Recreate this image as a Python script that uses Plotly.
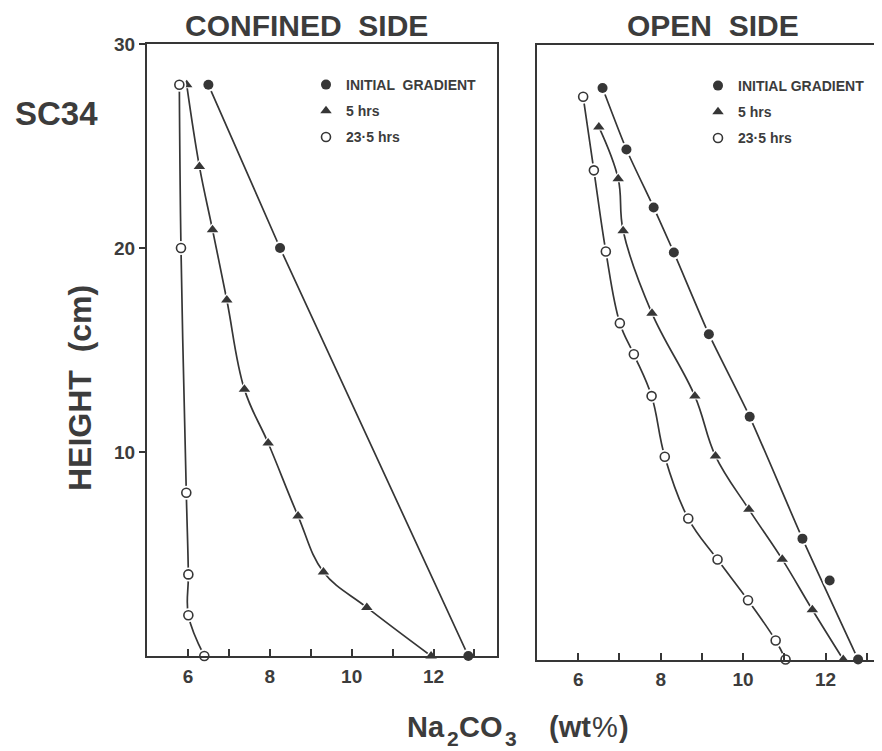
import plotly.graph_objects as go

# ---------------- data ----------------
# Confined side
conf_init_x = [6.5, 8.25, 12.85]
conf_init_y = [28, 20, 0]
conf_5h_x = [5.97, 6.28, 6.60, 6.95, 7.38, 7.96, 8.69, 9.31, 10.37, 11.94]
conf_5h_y = [28, 24, 20.9, 17.45, 13.07, 10.44, 6.86, 4.12, 2.38, 0]
conf_23h_x = [5.79, 5.83, 5.96, 6.01, 6.01, 6.40]
conf_23h_y = [28, 20, 8.0, 4.0, 2.0, 0]

# Open side
open_init_x = [6.59, 7.17, 7.83, 8.32, 9.17, 10.16, 11.44, 12.10, 12.79]
open_init_y = [27.9, 24.9, 22.07, 19.87, 15.88, 11.85, 5.9, 3.86, 0]
open_init_on_curve = [True, True, True, True, True, True, True, False, True]
open_5h_x = [6.50, 6.97, 7.09, 7.79, 8.83, 9.33, 10.14, 10.95, 11.68, 12.43]
open_5h_y = [26.0, 23.47, 20.93, 16.9, 12.86, 9.93, 7.33, 4.89, 2.43, 0]
open_23h_x = [6.12, 6.38, 6.67, 7.01, 7.35, 7.78, 8.10, 8.67, 9.38, 10.12, 10.79, 11.03]
open_23h_y = [27.47, 23.88, 19.92, 16.42, 14.9, 12.86, 9.9, 6.88, 4.88, 2.89, 0.93, 0]

series_names = ["INITIAL  GRADIENT", "5 hrs", "23·5 hrs"]
open_series_names = ["INITIAL GRADIENT", "5 hrs", "23·5 hrs"]

x_tick_major = [6, 8, 10, 12]
x_tick_minor = [7, 9, 11, 13]
y_ticks = [10, 20, 30]

INK = "#363636"
TXT = "#3c3c3c"
FONT = "Liberation Sans, Arial, sans-serif"

# page has an 8px body margin; figure sized to fit the window exactly
OFF = 8
W, H = 874, 743


def PX(sx):  # screen x -> paper x
    return (sx - OFF) / W


def PY(sy):  # screen y -> paper y
    return (H - (sy - OFF)) / H


fig = go.Figure()


def add_series(xs, ys, name, symbol, filled, xa, ya, legend, shape="spline",
               smoothing=1.1, curve_mask=None, size=10):
    lx = xs if curve_mask is None else [v for v, m in zip(xs, curve_mask) if m]
    ly = ys if curve_mask is None else [v for v, m in zip(ys, curve_mask) if m]
    line_kw = dict(color=INK, width=1.7, shape=shape)
    if shape == "spline":
        line_kw["smoothing"] = smoothing
    fig.add_trace(go.Scatter(x=lx, y=ly, mode="lines", line=line_kw,
                             xaxis=xa, yaxis=ya, showlegend=False,
                             hoverinfo="skip", cliponaxis=False))
    # white halo so the line stops short of the marker
    fig.add_trace(go.Scatter(x=xs, y=ys, mode="markers",
                             marker=dict(symbol=symbol, size=size + 4, color="white",
                                         line=dict(width=0)),
                             xaxis=xa, yaxis=ya, showlegend=False,
                             hoverinfo="skip", cliponaxis=False))
    if filled:
        mk = dict(symbol=symbol, size=size, color=INK, line=dict(width=0))
    else:
        mk = dict(symbol=symbol, size=size - 1, color="white",
                  line=dict(width=1.6, color=INK))
    fig.add_trace(go.Scatter(x=xs, y=ys, mode="markers", marker=mk, name=name,
                             xaxis=xa, yaxis=ya, legend=legend,
                             legendgroup=legend + name, cliponaxis=False))


add_series(conf_init_x, conf_init_y, series_names[0], "circle", True, "x", "y",
           "legend", shape="linear")
add_series(conf_5h_x, conf_5h_y, series_names[1], "triangle-up", True, "x", "y",
           "legend")
add_series(conf_23h_x, conf_23h_y, series_names[2], "circle", False, "x", "y",
           "legend")

add_series(open_init_x, open_init_y, open_series_names[0], "circle", True, "x2", "y2",
           "legend2", smoothing=0.6, curve_mask=open_init_on_curve)
add_series(open_5h_x, open_5h_y, open_series_names[1], "triangle-up", True, "x2", "y2",
           "legend2")
add_series(open_23h_x, open_23h_y, open_series_names[2], "circle", False, "x2", "y2",
           "legend2")

tickfont = dict(family=FONT, size=19, color=TXT, weight="bold")

axis_common = dict(showgrid=False, zeroline=False, showline=True, linewidth=2,
                   linecolor=INK, automargin=False)

legend_common = dict(font=dict(family=FONT, size=14, color=TXT, weight="bold"),
                     bgcolor="rgba(0,0,0,0)", borderwidth=0, tracegroupgap=5,
                     traceorder="grouped", xanchor="left", yanchor="top",
                     itemclick=False)

xminor = dict(tickvals=x_tick_minor, ticks="inside", ticklen=7, tickwidth=1.5,
              tickcolor=INK)

fig.update_layout(
    width=W, height=H,
    margin=dict(l=0, r=0, t=0, b=0),
    paper_bgcolor="white", plot_bgcolor="white",
    font=dict(family=FONT, color=TXT),
    xaxis=dict(axis_common, domain=[PX(147), PX(497)], range=[5, 13.55],
               mirror=True, anchor="y",
               ticks="inside", tickvals=x_tick_major, ticklen=7, tickwidth=1.5,
               tickcolor=INK, tickfont=tickfont, ticklabelstandoff=2,
               minor=xminor),
    yaxis=dict(axis_common, domain=[PY(656), PY(44)], range=[0, 30],
               mirror=True, anchor="x",
               ticks="outside", tickvals=y_ticks, ticklen=6, tickwidth=1.5,
               tickcolor=INK, tickfont=tickfont),
    xaxis2=dict(axis_common, domain=[PX(537), 1.0], range=[5, 13.37],
                mirror=True, anchor="y2",
                ticks="inside", tickvals=x_tick_major, ticklen=7, tickwidth=1.5,
                tickcolor=INK, tickfont=tickfont, ticklabelstandoff=2,
                minor=xminor),
    yaxis2=dict(axis_common, domain=[PY(659.5), PY(45)], range=[0, 30],
                mirror=False, anchor="x2", showticklabels=False, ticks=""),
    legend=dict(legend_common, x=PX(306), y=PY(69)),
    legend2=dict(legend_common, x=PX(698), y=PY(70)),
    showlegend=True,
)


def label(text, sx, sy, size, bold=True, xanchor="center", angle=0):
    fig.add_annotation(text=text, x=PX(sx), y=PY(sy), xref="paper", yref="paper",
                       showarrow=False, xanchor=xanchor, yanchor="middle",
                       textangle=angle, borderpad=0,
                       font=dict(family=FONT, color=TXT, size=size,
                                 weight="bold" if bold else "normal"))


label("CONFINED  SIDE", 306, 25.5, 30)
label("OPEN  SIDE", 713, 25.5, 30)
label("SC34", 56, 113, 33)
label("HEIGHT&nbsp;&nbsp;(cm)", 80, 388, 32, angle=-90)

# x-axis title: Na2CO3 (wt%) built from pieces (subscripts lowered)
label("Na", 406, 727, 29, xanchor="left")
label("2", 446, 738, 21, xanchor="left")
label("CO", 458, 727, 29, xanchor="left")
label("3", 504, 738, 21, xanchor="left")
label("(wt", 548, 727, 29, xanchor="left")
label("%", 591, 727, 29, bold=False, xanchor="left")
label(")", 618, 727, 29, xanchor="left")

fig.write_html("out.html")
